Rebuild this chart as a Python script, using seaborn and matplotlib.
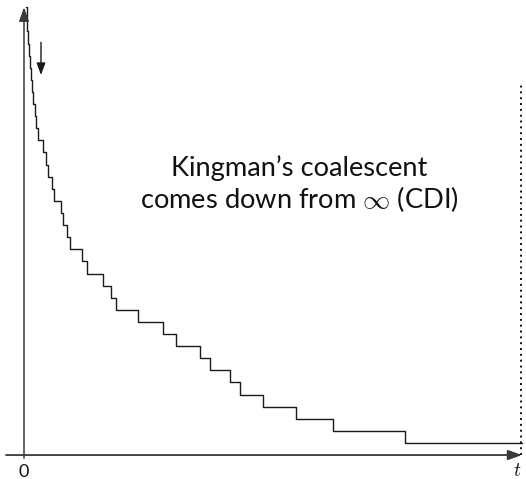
import matplotlib
matplotlib.use("Agg")
import matplotlib.pyplot as plt
import seaborn as sns
import pandas as pd

# lineage counts (levels) and time at which each level ends (jump times)
levels = [37, 36, 35, 34, 33, 32, 31, 30, 29, 28, 27, 26, 25, 24, 23, 22, 21, 20,
          19, 18, 17, 16, 15, 14, 13, 12, 11, 10, 9, 8, 7, 6, 5, 4, 3, 2, 1]
level_end = [0.025, 0.033, 0.04, 0.048, 0.055, 0.065, 0.075, 0.09, 0.105, 0.12,
             0.143, 0.187, 0.217, 0.243, 0.277, 0.303, 0.367, 0.393, 0.427, 0.463,
             0.577, 0.633, 0.787, 0.873, 0.92, 1.143, 1.393, 1.517, 1.757, 1.863,
             2.06, 2.157, 2.393, 2.72, 3.09, 3.807, 4.977]
t_start = 0.015
t_horizon = 4.97
x_tick_labels = ["0", "$t$"]
annotation = "Kingman\u2019s coalescent\ncomes down from $\\infty$ (CDI)"

sns.set_theme(style="white")
plt.rcParams["font.family"] = ["Lato", "DejaVu Sans"]
plt.rcParams["mathtext.fontset"] = "cm"

fig = plt.figure(figsize=(5.26, 4.79), dpi=100)
ax = fig.add_axes([0, 0, 1, 1])

# build step data
xs = [t_start] + level_end[:-1] + [level_end[-1]]
ys = levels + [levels[-1]]
df = pd.DataFrame({"t": xs, "n": ys})
sns.lineplot(data=df, x="t", y="n", drawstyle="steps-post", color="#1a1a1a",
             linewidth=1.0, ax=ax, sort=False, estimator=None)

ax.set_xlim(-0.24, 5.02)
ax.set_ylim(-1.98, 37.6)
ax.axis("off")

axis_col = "#3a3a3a"
# x axis
ax.annotate("", xy=(4.98, 0), xytext=(-0.18, 0),
            arrowprops=dict(arrowstyle="-|>,head_length=0.7,head_width=0.25",
                            color=axis_col, lw=1.3, shrinkA=0, shrinkB=0))
# y axis
ax.annotate("", xy=(0, 37.0), xytext=(0, -0.25),
            arrowprops=dict(arrowstyle="-|>,head_length=0.7,head_width=0.25",
                            color=axis_col, lw=1.1, shrinkA=0, shrinkB=0))
# small down arrow
ax.annotate("", xy=(0.17, 31.4), xytext=(0.17, 34.1),
            arrowprops=dict(arrowstyle="-|>,head_length=0.6,head_width=0.22",
                            color="#1a1a1a", lw=1.0, shrinkA=0, shrinkB=0))
# dotted horizon
ax.plot([t_horizon, t_horizon], [0, 30.6], color="#111111", lw=1.4,
        linestyle=(0, (1.0, 2.0)))

ax.text(0.0, -1.4, x_tick_labels[0], ha="center", va="center", fontsize=13,
        color="#111111")
ax.text(4.93, -1.3, x_tick_labels[1], ha="center", va="center", fontsize=14,
        color="#111111")

ax.text(2.75, 20.41, annotation, ha="center", va="baseline", fontsize=19.6,
        linespacing=1.12, color="#111111")

fig.savefig("out.png", dpi=100)
